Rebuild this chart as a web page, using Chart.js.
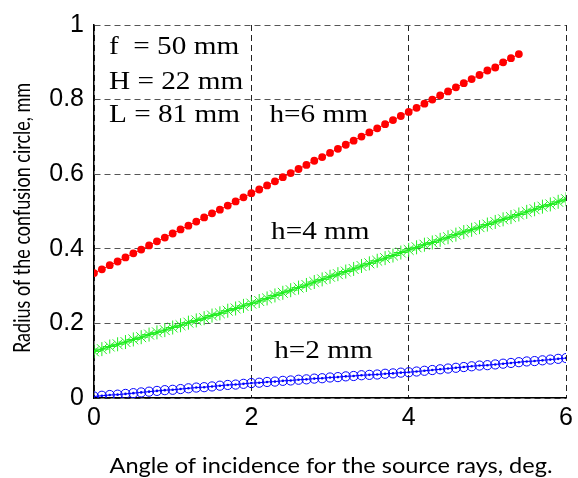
<!DOCTYPE html>
<html>
<head>
<meta charset="utf-8">
<script src="https://cdn.jsdelivr.net/npm/chart.js@4/dist/chart.umd.min.js"></script>
<style>
  html, body { margin: 0; padding: 0; background: #fff; }
  #wrap { width: 578px; height: 478px; }
</style>
</head>
<body>
<div id="wrap"><canvas id="chart" width="578" height="478"></canvas></div>
<script>
// Angle of incidence, deg.
const angles = [
  0.0, 0.1, 0.2, 0.3, 0.4, 0.5, 0.6, 0.7, 0.8, 0.9,
  1.0, 1.1, 1.2, 1.3, 1.4, 1.5, 1.6, 1.7, 1.8, 1.9,
  2.0, 2.1, 2.2, 2.3, 2.4, 2.5, 2.6, 2.7, 2.8, 2.9,
  3.0, 3.1, 3.2, 3.3, 3.4, 3.5, 3.6, 3.7, 3.8, 3.9,
  4.0, 4.1, 4.2, 4.3, 4.4, 4.5, 4.6, 4.7, 4.8, 4.9,
  5.0, 5.1, 5.2, 5.3, 5.4, 5.5, 5.6, 5.7, 5.8, 5.9,
  6.0
];

// h = 6 mm (stops at 5.4 deg)
const radiusH6 = [
  0.335, 0.345, 0.356, 0.366, 0.377, 0.388, 0.398, 0.409, 0.420, 0.430,
  0.441, 0.452, 0.462, 0.473, 0.484, 0.495, 0.505, 0.516, 0.527, 0.538,
  0.549, 0.559, 0.570, 0.581, 0.592, 0.603, 0.614, 0.625, 0.636, 0.646,
  0.657, 0.668, 0.679, 0.690, 0.701, 0.712, 0.723, 0.734, 0.745, 0.756,
  0.767, 0.778, 0.789, 0.800, 0.811, 0.822, 0.833, 0.844, 0.855, 0.866,
  0.878, 0.886, 0.900, 0.911, 0.922
];

// h = 4 mm
const radiusH4 = [
  0.125, 0.131, 0.138, 0.144, 0.150, 0.157, 0.163, 0.170, 0.176, 0.182,
  0.189, 0.195, 0.202, 0.208, 0.214, 0.221, 0.227, 0.234, 0.240, 0.247,
  0.253, 0.260, 0.267, 0.275, 0.282, 0.289, 0.296, 0.303, 0.311, 0.318,
  0.325, 0.332, 0.339, 0.346, 0.354, 0.361, 0.368, 0.375, 0.382, 0.390,
  0.397, 0.404, 0.411, 0.417, 0.424, 0.431, 0.438, 0.445, 0.451, 0.458,
  0.465, 0.472, 0.479, 0.485, 0.492, 0.499, 0.506, 0.513, 0.519, 0.526,
  0.533
];

// h = 2 mm
const radiusH2 = [
  0.004, 0.006, 0.008, 0.009, 0.011, 0.013, 0.015, 0.017, 0.019, 0.021,
  0.022, 0.024, 0.026, 0.028, 0.029, 0.031, 0.033, 0.035, 0.036, 0.038,
  0.040, 0.041, 0.043, 0.044, 0.046, 0.047, 0.049, 0.050, 0.052, 0.053,
  0.055, 0.056, 0.058, 0.059, 0.061, 0.062, 0.063, 0.065, 0.066, 0.068,
  0.069, 0.071, 0.073, 0.075, 0.077, 0.079, 0.081, 0.083, 0.085, 0.087,
  0.088, 0.090, 0.092, 0.094, 0.096, 0.098, 0.099, 0.101, 0.103, 0.105,
  0.107
];

const xTicks = [0, 2, 4, 6];
const yTicks = [0, 0.2, 0.4, 0.6, 0.8, 1];

const xTitle = 'Angle of incidence for the source rays, deg.';
const yTitle = 'Radius of the confusion circle, mm';

// text placed inside the plot, in data coordinates
const notes = [
  { text: 'f  = 50 mm', x: 0.19, y: 0.941 },
  { text: 'H = 22 mm', x: 0.19, y: 0.847 },
  { text: 'L = 81 mm', x: 0.19, y: 0.757 },
  { text: 'h=6 mm', x: 2.23, y: 0.757 },
  { text: 'h=4 mm', x: 2.25, y: 0.445 },
  { text: 'h=2 mm', x: 2.29, y: 0.125 }
];

function toPoints(values) {
  return values.map((v, i) => ({ x: angles[i], y: v }));
}

// the source picture is a little wider than tall, so text gets a horizontal stretch
const textPlugin = {
  id: 'texts',
  afterDatasetsDraw(chart) {
    const { ctx, scales, chartArea } = chart;
    ctx.save();
    ctx.fillStyle = '#000';
    ctx.textBaseline = 'middle';

    // notes inside the plot
    ctx.font = '25px "Liberation Serif", "Times New Roman", serif';
    ctx.textAlign = 'left';
    notes.forEach(n => {
      const px = scales.x.getPixelForValue(n.x);
      const py = scales.y.getPixelForValue(n.y);
      ctx.save();
      ctx.translate(px, py);
      ctx.scale(1.17, 1);
      ctx.fillText(n.text, 0, 0);
      ctx.restore();
    });

    // x axis title
    ctx.font = '21px Lato, "Open Sans", sans-serif';
    ctx.textAlign = 'center';
    ctx.save();
    ctx.translate((chartArea.left + chartArea.right) / 2 + 1, 466);
    ctx.scale(1.12, 1);
    ctx.fillText(xTitle, 0, 0);
    ctx.restore();

    // y axis title
    ctx.font = '18px Lato, "Open Sans", sans-serif';
    ctx.save();
    ctx.translate(22, 218);
    ctx.rotate(-Math.PI / 2);
    ctx.scale(1, 1.3);
    ctx.fillText(yTitle, 0, 0);
    ctx.restore();

    ctx.restore();
  }
};

const tickFont = { family: '"Liberation Sans", Arial, sans-serif', size: 25 };

const ctx = document.getElementById('chart').getContext('2d');
new Chart(ctx, {
  type: 'line',
  data: {
    datasets: [
      {
        label: 'h=6 mm',
        data: toPoints(radiusH6),
        borderColor: '#ff0000',
        backgroundColor: '#ff0000',
        borderWidth: 1,
        pointStyle: 'circle',
        pointRadius: 3.9,
        pointBorderWidth: 0,
      },
      {
        label: 'h=4 mm',
        data: toPoints(radiusH4),
        borderColor: '#22ee22',
        backgroundColor: '#22ee22',
        borderWidth: 1.5,
        pointStyle: 'star',
        pointRadius: 7,
        pointBorderWidth: 1,
      },
      {
        label: 'h=4 mm centres',
        data: toPoints(radiusH4),
        showLine: false,
        borderColor: '#00cc00',
        backgroundColor: '#00cc00',
        pointStyle: 'circle',
        pointRadius: 1.6,
        pointBorderWidth: 0,
      },
      {
        label: 'h=2 mm',
        data: toPoints(radiusH2),
        borderColor: '#0000ff',
        backgroundColor: 'rgba(0,0,0,0)',
        borderWidth: 1,
        pointStyle: 'circle',
        pointRadius: 4.6,
        pointBorderWidth: 1,
      },
      {
        label: 'h=2 mm centres',
        data: toPoints(radiusH2),
        showLine: false,
        borderColor: '#0000ff',
        backgroundColor: '#0000ff',
        pointStyle: 'circle',
        pointRadius: 1.3,
        pointBorderWidth: 0,
      }
    ]
  },
  options: {
    responsive: false,
    animation: false,
    layout: { padding: { top: 22, right: 10, left: 0, bottom: 0 } },
    plugins: {
      legend: { display: false },
      tooltip: { enabled: false }
    },
    scales: {
      x: {
        type: 'linear',
        min: 0,
        max: 6,
        afterBuildTicks: s => { s.ticks = xTicks.map(v => ({ value: v })); },
        afterFit: s => { s.height = 80; },
        ticks: { color: '#000', font: tickFont, padding: 5, maxRotation: 0,
                 callback: v => String(v) },
        grid: { color: '#222', lineWidth: 1, drawTicks: false },
        border: { display: true, color: '#000', width: 1.5, dash: [6, 4] },
        title: { display: false }
      },
      y: {
        type: 'linear',
        min: 0,
        max: 1,
        afterBuildTicks: s => { s.ticks = yTicks.map(v => ({ value: v })); },
        afterFit: s => { s.width = 94; },
        ticks: { color: '#000', font: tickFont, padding: 10,
                 callback: v => String(v) },
        grid: { color: '#555', lineWidth: 1, drawTicks: false },
        border: { display: true, color: '#000', width: 1.5, dash: [6, 4] },
        title: { display: false }
      }
    }
  },
  plugins: [textPlugin]
});
</script>
</body>
</html>
